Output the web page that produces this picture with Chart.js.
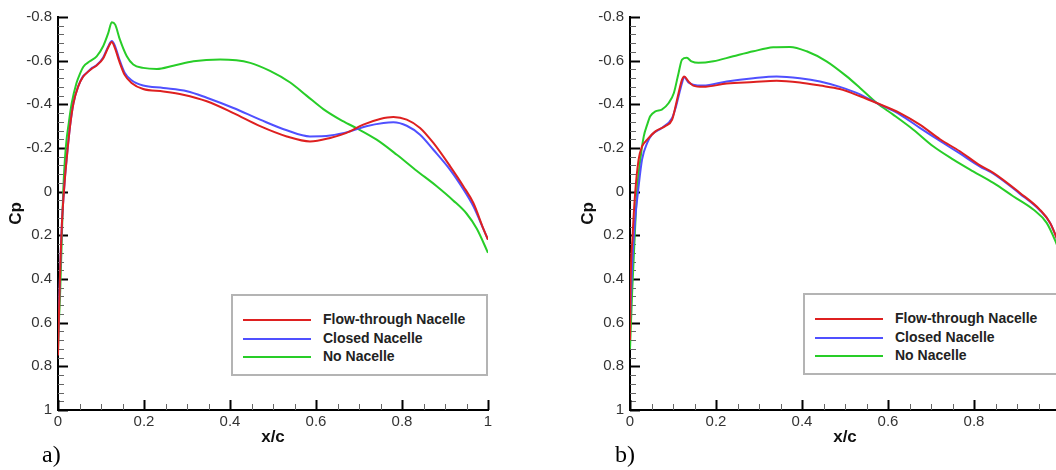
<!DOCTYPE html>
<html>
<head>
<meta charset="utf-8">
<script src="https://cdn.jsdelivr.net/npm/chart.js@4.4.1/dist/chart.umd.min.js"></script>
<style>
  html, body { margin: 0; padding: 0; background: #fff; }
  body { width: 1056px; height: 470px; overflow: hidden; position: relative; font-family: "Liberation Sans", Arial, Helvetica, sans-serif; }
  .panel { position: absolute; top: 0; width: 500px; height: 470px; }
  .panel canvas { position: absolute; left: 0; top: 0; }
  .legend { position: absolute; left: 231px; top: 294px; width: 253px; height: 78px; border: 2px solid #b4b4b4; background: #fff; }
  .legend .row { position: absolute; left: 0; height: 18px; }
  .legend .sw { position: absolute; left: 10px; width: 68px; height: 2px; }
  .legend .lbl { position: absolute; left: 90px; top: -9px; font-weight: bold; font-size: 14px; color: #222; white-space: nowrap; line-height: 18px; }
  .tag { position: absolute; left: 42px; top: 441px; font-family: "Liberation Serif", "Times New Roman", serif; font-size: 24px; color: #000; }
</style>
</head>
<body>

<div class="panel" id="panelA" style="left:0px">
  <canvas id="chartA" width="500" height="470"></canvas>
  <div class="legend" id="legendA"></div>
  <div class="tag">a)</div>
</div>
<div class="panel" id="panelB" style="left:572px">
  <canvas id="chartB" width="500" height="470"></canvas>
  <div class="legend" id="legendB" style="top:293px"></div>
  <div class="tag" style="left:43px">b)</div>
</div>

<script>
// --- tick labels / series names ---
const seriesNames = ["Flow-through Nacelle", "Closed Nacelle", "No Nacelle"];
const seriesColors = ["rgb(222,32,32)", "rgb(80,80,255)", "rgb(40,205,40)"];
const yTicks = [-0.8, -0.6, -0.4, -0.2, 0, 0.2, 0.4, 0.6, 0.8, 1];
const xTicks = [0, 0.2, 0.4, 0.6, 0.8, 1];

// --- panel a) ---
const aFlowX = [0, 0.003, 0.006, 0.009, 0.013, 0.016, 0.02, 0.028, 0.036, 0.047, 0.058, 0.067, 0.08, 0.09, 0.105, 0.118, 0.125, 0.132, 0.142, 0.155, 0.171, 0.198, 0.245, 0.291, 0.346, 0.408, 0.47, 0.532, 0.586, 0.633, 0.671, 0.71, 0.749, 0.78, 0.811, 0.842, 0.873, 0.912, 0.943, 0.966, 0.99, 1.0];
const aFlowCp = [0.75, 0.5, 0.3, 0.15, 0.02, -0.06, -0.147, -0.3, -0.406, -0.482, -0.525, -0.544, -0.565, -0.578, -0.61, -0.665, -0.685, -0.66, -0.6, -0.535, -0.498, -0.47, -0.459, -0.444, -0.414, -0.36, -0.3, -0.253, -0.23, -0.246, -0.269, -0.307, -0.333, -0.342, -0.33, -0.292, -0.223, -0.116, -0.024, 0.052, 0.174, 0.22];

const aClosedX = [0, 0.003, 0.006, 0.009, 0.013, 0.016, 0.02, 0.028, 0.036, 0.047, 0.058, 0.067, 0.08, 0.09, 0.105, 0.118, 0.125, 0.132, 0.142, 0.155, 0.171, 0.198, 0.245, 0.3, 0.346, 0.408, 0.47, 0.532, 0.586, 0.633, 0.679, 0.717, 0.757, 0.78, 0.811, 0.842, 0.873, 0.912, 0.943, 0.966, 0.99, 1.0];
const aClosedCp = [0.7, 0.48, 0.3, 0.15, 0.02, -0.06, -0.147, -0.3, -0.406, -0.482, -0.528, -0.545, -0.568, -0.58, -0.615, -0.67, -0.69, -0.67, -0.61, -0.545, -0.51, -0.486, -0.475, -0.46, -0.43, -0.383, -0.33, -0.281, -0.253, -0.257, -0.276, -0.3, -0.315, -0.318, -0.302, -0.261, -0.192, -0.1, -0.01, 0.067, 0.174, 0.22];

const aNoneX = [0, 0.002, 0.005, 0.009, 0.012, 0.016, 0.02, 0.024, 0.032, 0.043, 0.05, 0.059, 0.074, 0.09, 0.105, 0.117, 0.125, 0.133, 0.144, 0.16, 0.175, 0.198, 0.23, 0.268, 0.315, 0.377, 0.447, 0.493, 0.54, 0.578, 0.617, 0.656, 0.695, 0.741, 0.788, 0.834, 0.88, 0.919, 0.95, 0.974, 1.0];
const aNoneCp = [0.72, 0.6, 0.46, 0.205, 0.005, -0.147, -0.24, -0.3, -0.406, -0.498, -0.535, -0.572, -0.597, -0.62, -0.666, -0.727, -0.776, -0.765, -0.696, -0.62, -0.582, -0.567, -0.562, -0.577, -0.597, -0.605, -0.59, -0.553, -0.5, -0.44, -0.378, -0.33, -0.29, -0.238, -0.169, -0.096, -0.026, 0.04, 0.1, 0.17, 0.28];

// --- panel b) ---
const bFlowX = [0, 0.001, 0.006, 0.012, 0.02, 0.028, 0.04, 0.059, 0.082, 0.098, 0.107, 0.113, 0.121, 0.126, 0.136, 0.147, 0.17, 0.225, 0.287, 0.341, 0.395, 0.442, 0.488, 0.535, 0.574, 0.628, 0.674, 0.721, 0.767, 0.814, 0.845, 0.907, 0.953, 0.977, 1.0];
const bFlowCp = [0.68, 0.46, 0.205, 0.006, -0.147, -0.207, -0.238, -0.276, -0.3, -0.33, -0.4, -0.452, -0.513, -0.528, -0.505, -0.486, -0.48, -0.495, -0.502, -0.508, -0.5, -0.486, -0.47, -0.437, -0.406, -0.36, -0.307, -0.24, -0.185, -0.12, -0.086, 0.006, 0.082, 0.143, 0.25];

const bClosedX = [0, 0.005, 0.012, 0.02, 0.028, 0.04, 0.051, 0.074, 0.098, 0.107, 0.113, 0.121, 0.126, 0.136, 0.147, 0.17, 0.225, 0.287, 0.341, 0.395, 0.442, 0.488, 0.535, 0.574, 0.628, 0.674, 0.721, 0.767, 0.814, 0.845, 0.907, 0.953, 0.977, 1.0];
const bClosedCp = [0.6, 0.34, 0.128, -0.024, -0.147, -0.223, -0.261, -0.292, -0.338, -0.39, -0.437, -0.498, -0.525, -0.5, -0.49, -0.486, -0.505, -0.52, -0.528, -0.52, -0.505, -0.48, -0.446, -0.406, -0.353, -0.292, -0.232, -0.175, -0.115, -0.082, 0.01, 0.085, 0.143, 0.25];

const bNoneX = [0, 0.005, 0.011, 0.016, 0.024, 0.032, 0.04, 0.047, 0.059, 0.074, 0.09, 0.102, 0.113, 0.121, 0.132, 0.143, 0.159, 0.194, 0.24, 0.287, 0.333, 0.372, 0.411, 0.457, 0.504, 0.535, 0.574, 0.612, 0.659, 0.705, 0.752, 0.798, 0.845, 0.891, 0.938, 0.969, 0.991, 1.0];
const bNoneCp = [0.72, 0.46, 0.205, 0.006, -0.147, -0.253, -0.307, -0.345, -0.368, -0.376, -0.406, -0.452, -0.544, -0.605, -0.613, -0.597, -0.59, -0.597, -0.62, -0.643, -0.661, -0.663, -0.643, -0.597, -0.528, -0.475, -0.406, -0.353, -0.284, -0.208, -0.147, -0.093, -0.04, 0.021, 0.082, 0.143, 0.234, 0.28];

const toPts = (xs, ys) => xs.map((x, i) => ({ x: x, y: ys[i] }));

// inward ticks (major + minor) drawn from the scales
const innerTicks = {
  id: 'innerTicks',
  beforeDatasetsDraw(chart) {
    const { ctx, chartArea, scales } = chart;
    const x = scales.x, y = scales.y;
    ctx.save();
    // y axis: minor every 0.04
    for (let i = 0; i <= 45; i++) {
      const py = Math.round(y.getPixelForValue(-0.8 + i * 0.04)) + 0.5;
      const major = i % 5 === 0;
      ctx.strokeStyle = major ? '#000' : '#666';
      ctx.lineWidth = major ? 2 : 1;
      ctx.beginPath();
      ctx.moveTo(chartArea.left, py);
      ctx.lineTo(chartArea.left + (major ? 10 : 6), py);
      ctx.stroke();
    }
    // x axis: minor every 0.05
    for (let i = 0; i <= 20; i++) {
      const px = Math.round(x.getPixelForValue(i * 0.05)) + 0.5;
      const major = i % 4 === 0;
      ctx.strokeStyle = major ? '#000' : '#666';
      ctx.lineWidth = major ? 2 : 1;
      ctx.beginPath();
      ctx.moveTo(px, chartArea.bottom);
      ctx.lineTo(px, chartArea.bottom - (major ? 10 : 6));
      ctx.stroke();
    }
    ctx.restore();
  }
};

function fmt(v) {
  if (Math.abs(v) < 1e-9) return '0';
  return String(Math.round(v * 10) / 10);
}

function makeChart(id, sets) {
  const ctx = document.getElementById(id).getContext('2d');
  return new Chart(ctx, {
    type: 'line',
    data: {
      datasets: sets.map((s, i) => ({
        label: seriesNames[i],
        data: s,
        borderColor: seriesColors[i],
        backgroundColor: seriesColors[i],
        borderWidth: 2,
        pointRadius: 0,
        fill: false,
        cubicInterpolationMode: 'monotone'
      }))
    },
    options: {
      responsive: false,
      animation: false,
      devicePixelRatio: 1,
      layout: { padding: { top: 17, right: 12, bottom: 20, left: 0 } },
      plugins: { legend: { display: false }, tooltip: { enabled: false } },
      scales: {
        x: {
          type: 'linear',
          min: 0,
          max: 1,
          afterBuildTicks: (s) => { s.ticks = xTicks.map(v => ({ value: v })); },
          ticks: { callback: fmt, padding: 3, color: '#333', maxRotation: 0, autoSkip: false,
                   font: { family: '"Liberation Sans", Arial, sans-serif', size: 15 } },
          grid: { display: false, drawTicks: false },
          border: { display: true, color: '#000', width: 2 },
          title: { display: true, text: 'x/c', color: '#111', padding: { top: 0, bottom: 2 },
                   font: { family: '"Liberation Sans", Arial, sans-serif', size: 17, weight: 'bold' } },
          afterFit: (s) => { s.height = 40; s.paddingLeft = 0; s.paddingRight = 0; }
        },
        y: {
          type: 'linear',
          reverse: true,
          min: -0.8,
          max: 1,
          afterBuildTicks: (s) => { s.ticks = yTicks.map(v => ({ value: v })); },
          ticks: { callback: fmt, padding: 6, color: '#333', autoSkip: false,
                   font: { family: '"Liberation Sans", Arial, sans-serif', size: 15 } },
          grid: { display: false, drawTicks: false },
          border: { display: true, color: '#000', width: 2 },
          title: { display: true, text: 'Cp', color: '#111', padding: { top: 6, bottom: 0 },
                   font: { family: '"Liberation Sans", Arial, sans-serif', size: 17, weight: 'bold' } },
          afterFit: (s) => { s.width = 58; s.paddingTop = 0; s.paddingBottom = 0; }
        }
      }
    },
    plugins: [innerTicks]
  });
}

function makeLegend(id) {
  const box = document.getElementById(id);
  const rowsY = [25, 44, 62];
  seriesNames.forEach((name, i) => {
    const row = document.createElement('div');
    row.className = 'row';
    row.style.top = (rowsY[i] - 2) + 'px';
    row.innerHTML = '<div class="sw" style="background:' + seriesColors[i] + '"></div>' +
                    '<div class="lbl">' + name + '</div>';
    box.appendChild(row);
  });
}

makeChart('chartA', [toPts(aFlowX, aFlowCp), toPts(aClosedX, aClosedCp), toPts(aNoneX, aNoneCp)]);
makeChart('chartB', [toPts(bFlowX, bFlowCp), toPts(bClosedX, bClosedCp), toPts(bNoneX, bNoneCp)]);
makeLegend('legendA');
makeLegend('legendB');
</script>
</body>
</html>
